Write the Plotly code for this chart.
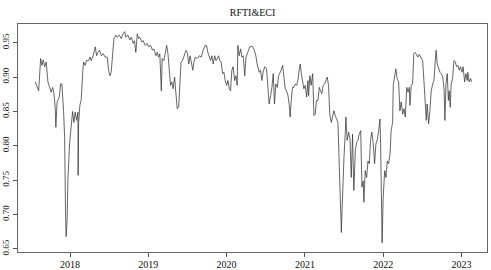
import plotly.graph_objects as go

title_text = "RFTI&ECI"

dates = [
    "2017-07-23", "2017-08-08", "2017-08-17", "2017-08-23", "2017-08-29", "2017-09-05", "2017-09-12",
    "2017-09-20", "2017-09-28", "2017-10-05", "2017-10-12", "2017-10-18", "2017-10-24", "2017-10-27",
    "2017-11-02", "2017-11-12", "2017-11-18", "2017-11-24", "2017-12-02", "2017-12-07", "2017-12-11",
    "2017-12-14", "2017-12-19", "2017-12-22", "2017-12-30", "2018-01-07", "2018-01-13", "2018-01-19",
    "2018-01-25", "2018-02-01", "2018-02-07", "2018-02-08", "2018-02-10", "2018-02-16", "2018-02-22",
    "2018-03-01", "2018-03-05", "2018-03-13", "2018-03-19", "2018-03-29", "2018-04-04", "2018-04-10",
    "2018-04-19", "2018-04-29", "2018-05-05", "2018-05-11", "2018-05-19", "2018-05-27", "2018-06-05",
    "2018-06-14", "2018-06-24", "2018-06-30", "2018-07-06", "2018-07-12", "2018-07-19", "2018-07-25",
    "2018-08-03", "2018-08-09", "2018-08-19", "2018-08-28", "2018-09-06", "2018-09-13", "2018-09-19",
    "2018-09-28", "2018-10-07", "2018-10-14", "2018-10-23", "2018-10-29", "2018-11-04", "2018-11-11",
    "2018-11-17", "2018-11-23", "2018-12-02", "2018-12-08", "2018-12-18", "2018-12-27", "2019-01-03",
    "2019-01-12", "2019-01-21", "2019-01-27", "2019-02-06", "2019-02-12", "2019-02-18", "2019-02-24",
    "2019-03-03", "2019-03-07", "2019-03-15", "2019-03-21", "2019-03-28", "2019-04-03", "2019-04-09",
    "2019-04-15", "2019-04-21", "2019-04-27", "2019-05-04", "2019-05-10", "2019-05-16", "2019-05-23",
    "2019-05-27", "2019-06-03", "2019-06-10", "2019-06-16", "2019-06-26", "2019-07-02", "2019-07-09",
    "2019-07-15", "2019-07-21", "2019-07-28", "2019-08-02", "2019-08-08", "2019-08-17", "2019-08-27",
    "2019-09-05", "2019-09-14", "2019-09-24", "2019-09-30", "2019-10-06", "2019-10-12", "2019-10-19",
    "2019-10-25", "2019-10-31", "2019-11-07", "2019-11-13", "2019-11-19", "2019-11-25", "2019-12-01",
    "2019-12-07", "2019-12-14", "2019-12-20", "2019-12-26", "2020-01-02", "2020-01-08", "2020-01-14",
    "2020-01-20", "2020-01-26", "2020-02-01", "2020-02-08", "2020-02-14", "2020-02-20", "2020-02-23",
    "2020-02-29", "2020-03-07", "2020-03-13", "2020-03-19", "2020-03-26", "2020-04-01", "2020-04-07",
    "2020-04-13", "2020-04-19", "2020-04-29", "2020-05-08", "2020-05-17", "2020-05-23", "2020-06-02",
    "2020-06-08", "2020-06-14", "2020-06-20", "2020-06-27", "2020-07-06", "2020-07-12", "2020-07-18",
    "2020-07-25", "2020-07-31", "2020-08-06", "2020-08-12", "2020-08-18", "2020-08-25", "2020-08-31",
    "2020-09-06", "2020-09-12", "2020-09-19", "2020-09-25", "2020-10-01", "2020-10-07", "2020-10-14",
    "2020-10-20", "2020-10-24", "2020-10-29", "2020-11-04", "2020-11-11", "2020-11-17", "2020-11-23",
    "2020-11-29", "2020-12-05", "2020-12-10", "2020-12-15", "2020-12-21", "2020-12-27", "2021-01-02",
    "2021-01-09", "2021-01-15", "2021-01-18", "2021-01-24", "2021-01-30", "2021-02-06", "2021-02-12",
    "2021-02-18", "2021-02-24", "2021-03-03", "2021-03-09", "2021-03-15", "2021-03-21", "2021-03-27",
    "2021-04-03", "2021-04-09", "2021-04-15", "2021-04-21", "2021-04-27", "2021-05-04", "2021-05-10",
    "2021-05-16", "2021-05-22", "2021-05-29", "2021-06-04", "2021-06-09", "2021-06-14", "2021-06-20",
    "2021-06-23", "2021-06-28", "2021-07-02", "2021-07-08", "2021-07-11", "2021-07-17", "2021-07-24",
    "2021-07-30", "2021-08-05", "2021-08-11", "2021-08-17", "2021-08-24", "2021-08-30", "2021-09-05",
    "2021-09-11", "2021-09-18", "2021-09-24", "2021-09-30", "2021-10-03", "2021-10-09", "2021-10-16",
    "2021-10-22", "2021-10-28", "2021-11-03", "2021-11-09", "2021-11-15", "2021-11-22", "2021-11-28",
    "2021-12-04", "2021-12-11", "2021-12-17", "2021-12-20", "2021-12-25", "2021-12-27", "2022-01-01",
    "2022-01-08", "2022-01-14", "2022-01-20", "2022-01-26", "2022-02-02", "2022-02-07", "2022-02-14",
    "2022-02-17", "2022-02-23", "2022-03-01", "2022-03-07", "2022-03-14", "2022-03-20", "2022-03-26",
    "2022-04-02", "2022-04-08", "2022-04-14", "2022-04-21", "2022-04-27", "2022-05-03", "2022-05-06",
    "2022-05-12", "2022-05-18", "2022-05-24", "2022-05-30", "2022-06-06", "2022-06-12", "2022-06-18",
    "2022-06-27", "2022-07-04", "2022-07-10", "2022-07-16", "2022-07-21", "2022-07-25", "2022-08-01",
    "2022-08-07", "2022-08-13", "2022-08-20", "2022-08-26", "2022-09-01", "2022-09-05", "2022-09-10",
    "2022-09-17", "2022-09-23", "2022-09-29", "2022-10-06", "2022-10-12", "2022-10-16", "2022-10-21",
    "2022-10-27", "2022-11-01", "2022-11-05", "2022-11-10", "2022-11-14", "2022-11-21", "2022-11-27",
    "2022-12-03", "2022-12-10", "2022-12-16", "2022-12-22", "2022-12-28", "2023-01-03", "2023-01-09",
    "2023-01-16", "2023-01-22", "2023-01-28", "2023-01-31", "2023-02-06", "2023-02-13", "2023-02-17",
]

values = [
    0.893, 0.880, 0.927, 0.917, 0.925, 0.915, 0.922,
    0.893, 0.885, 0.878, 0.885, 0.876, 0.856, 0.827,
    0.864, 0.871, 0.890, 0.890, 0.851, 0.812, 0.705,
    0.668, 0.696, 0.749, 0.803, 0.832, 0.850, 0.834,
    0.849, 0.837, 0.849, 0.757, 0.832, 0.859, 0.866,
    0.905, 0.922, 0.917, 0.924, 0.924, 0.929, 0.924,
    0.931, 0.944, 0.931, 0.936, 0.939, 0.931, 0.934,
    0.929, 0.929, 0.910, 0.902, 0.907, 0.939, 0.956,
    0.961, 0.958, 0.961, 0.956, 0.963, 0.966, 0.958,
    0.961, 0.954, 0.958, 0.949, 0.953, 0.936, 0.963,
    0.956, 0.958, 0.951, 0.953, 0.946, 0.949, 0.944,
    0.946, 0.939, 0.941, 0.931, 0.936, 0.929, 0.934,
    0.880, 0.927, 0.924, 0.934, 0.946, 0.934, 0.905,
    0.888, 0.893, 0.883, 0.900, 0.876, 0.854, 0.856,
    0.880, 0.922, 0.924, 0.929, 0.939, 0.936, 0.919,
    0.931, 0.922, 0.910, 0.922, 0.929, 0.927, 0.931,
    0.929, 0.939, 0.946, 0.946, 0.936, 0.929, 0.924,
    0.931, 0.919, 0.931, 0.924, 0.927, 0.931, 0.924,
    0.922, 0.905, 0.907, 0.895, 0.888, 0.895, 0.883,
    0.880, 0.910, 0.915, 0.895, 0.902, 0.888, 0.946,
    0.931, 0.941, 0.929, 0.931, 0.902, 0.929, 0.936,
    0.939, 0.944, 0.945, 0.941, 0.931, 0.919, 0.907,
    0.910, 0.895, 0.907, 0.915, 0.912, 0.890, 0.861,
    0.873, 0.885, 0.905, 0.861, 0.890, 0.885, 0.902,
    0.905, 0.910, 0.917, 0.900, 0.883, 0.880, 0.873,
    0.859, 0.842, 0.866, 0.885, 0.885, 0.890, 0.888,
    0.895, 0.910, 0.919, 0.905, 0.893, 0.883, 0.888,
    0.871, 0.895, 0.873, 0.902, 0.888, 0.905, 0.844,
    0.846, 0.866, 0.866, 0.885, 0.880, 0.876, 0.888,
    0.890, 0.895, 0.900, 0.888, 0.846, 0.834, 0.844,
    0.851, 0.844, 0.837, 0.834, 0.783, 0.725, 0.674,
    0.705, 0.774, 0.783, 0.817, 0.842, 0.808, 0.820,
    0.810, 0.754, 0.817, 0.735, 0.793, 0.805, 0.808,
    0.817, 0.822, 0.740, 0.749, 0.718, 0.764, 0.754,
    0.778, 0.774, 0.808, 0.820, 0.805, 0.774, 0.803,
    0.808, 0.822, 0.839, 0.803, 0.705, 0.659, 0.725,
    0.764, 0.754, 0.778, 0.774, 0.788, 0.822, 0.834,
    0.888, 0.900, 0.912, 0.898, 0.893, 0.851, 0.864,
    0.846, 0.854, 0.842, 0.885, 0.878, 0.885, 0.859,
    0.888, 0.890, 0.934, 0.936, 0.931, 0.929, 0.933,
    0.929, 0.924, 0.895, 0.861, 0.837, 0.861, 0.832,
    0.851, 0.880, 0.890, 0.895, 0.924, 0.939, 0.919,
    0.912, 0.907, 0.905, 0.900, 0.883, 0.837, 0.890,
    0.905, 0.866, 0.880, 0.856, 0.890, 0.898, 0.924,
    0.922, 0.915, 0.917, 0.910, 0.915, 0.907, 0.915,
    0.893, 0.905, 0.895, 0.907, 0.893, 0.898, 0.893,
]

x_ticks = ["2018-01-01", "2019-01-01", "2020-01-01", "2021-01-01", "2022-01-01", "2023-01-01"]
x_tick_labels = ["2018", "2019", "2020", "2021", "2022", "2023"]
y_ticks = [0.65, 0.70, 0.75, 0.80, 0.85, 0.90, 0.95]
y_tick_labels = ["0.65", "0.70", "0.75", "0.80", "0.85", "0.90", "0.95"]

FONT = "Liberation Serif, Times New Roman, serif"

fig = go.Figure()
fig.add_trace(go.Scatter(
    x=dates, y=values, mode="lines",
    line=dict(color="#333333", width=0.75),
    showlegend=False, hoverinfo="skip",
))

fig.update_layout(
    width=491, height=270,
    margin=dict(l=18, r=4, t=24, b=18, autoexpand=False),
    paper_bgcolor="white", plot_bgcolor="white",
    font=dict(family=FONT, size=10, color="#111111"),
    title=dict(text=title_text, x=0.5, xref="paper", xanchor="center",
               y=(270 - 12) / 270, yref="container", yanchor="middle",
               font=dict(family=FONT, size=10, color="#111111")),
    showlegend=False,
)

fig.update_xaxes(
    type="date", automargin=False,
    range=["2017-05-03 10:00", "2023-04-30 07:00"],
    tickmode="array", tickvals=x_ticks, ticktext=x_tick_labels,
    ticks="outside", ticklen=4, tickcolor="#555555", tickwidth=1,
    ticklabelstandoff=-1,
    showline=True, linecolor="#666666", linewidth=1, mirror=True,
    showgrid=False, zeroline=False,
    tickfont=dict(family=FONT, size=10, color="#111111"),
)
fig.update_yaxes(
    automargin=False,
    range=[0.6456, 0.9772],
    tickmode="array", tickvals=y_ticks, ticktext=y_tick_labels,
    tickangle=-90,
    ticks="outside", ticklen=4, tickcolor="#555555", tickwidth=1,
    showline=True, linecolor="#666666", linewidth=1, mirror=True,
    showgrid=False, zeroline=False,
    tickfont=dict(family=FONT, size=9, color="#111111"),
)

fig.write_html(
    "out.html",
    config={"displayModeBar": False},
    post_script="document.body.style.margin='0';document.body.style.padding='0';",
)
